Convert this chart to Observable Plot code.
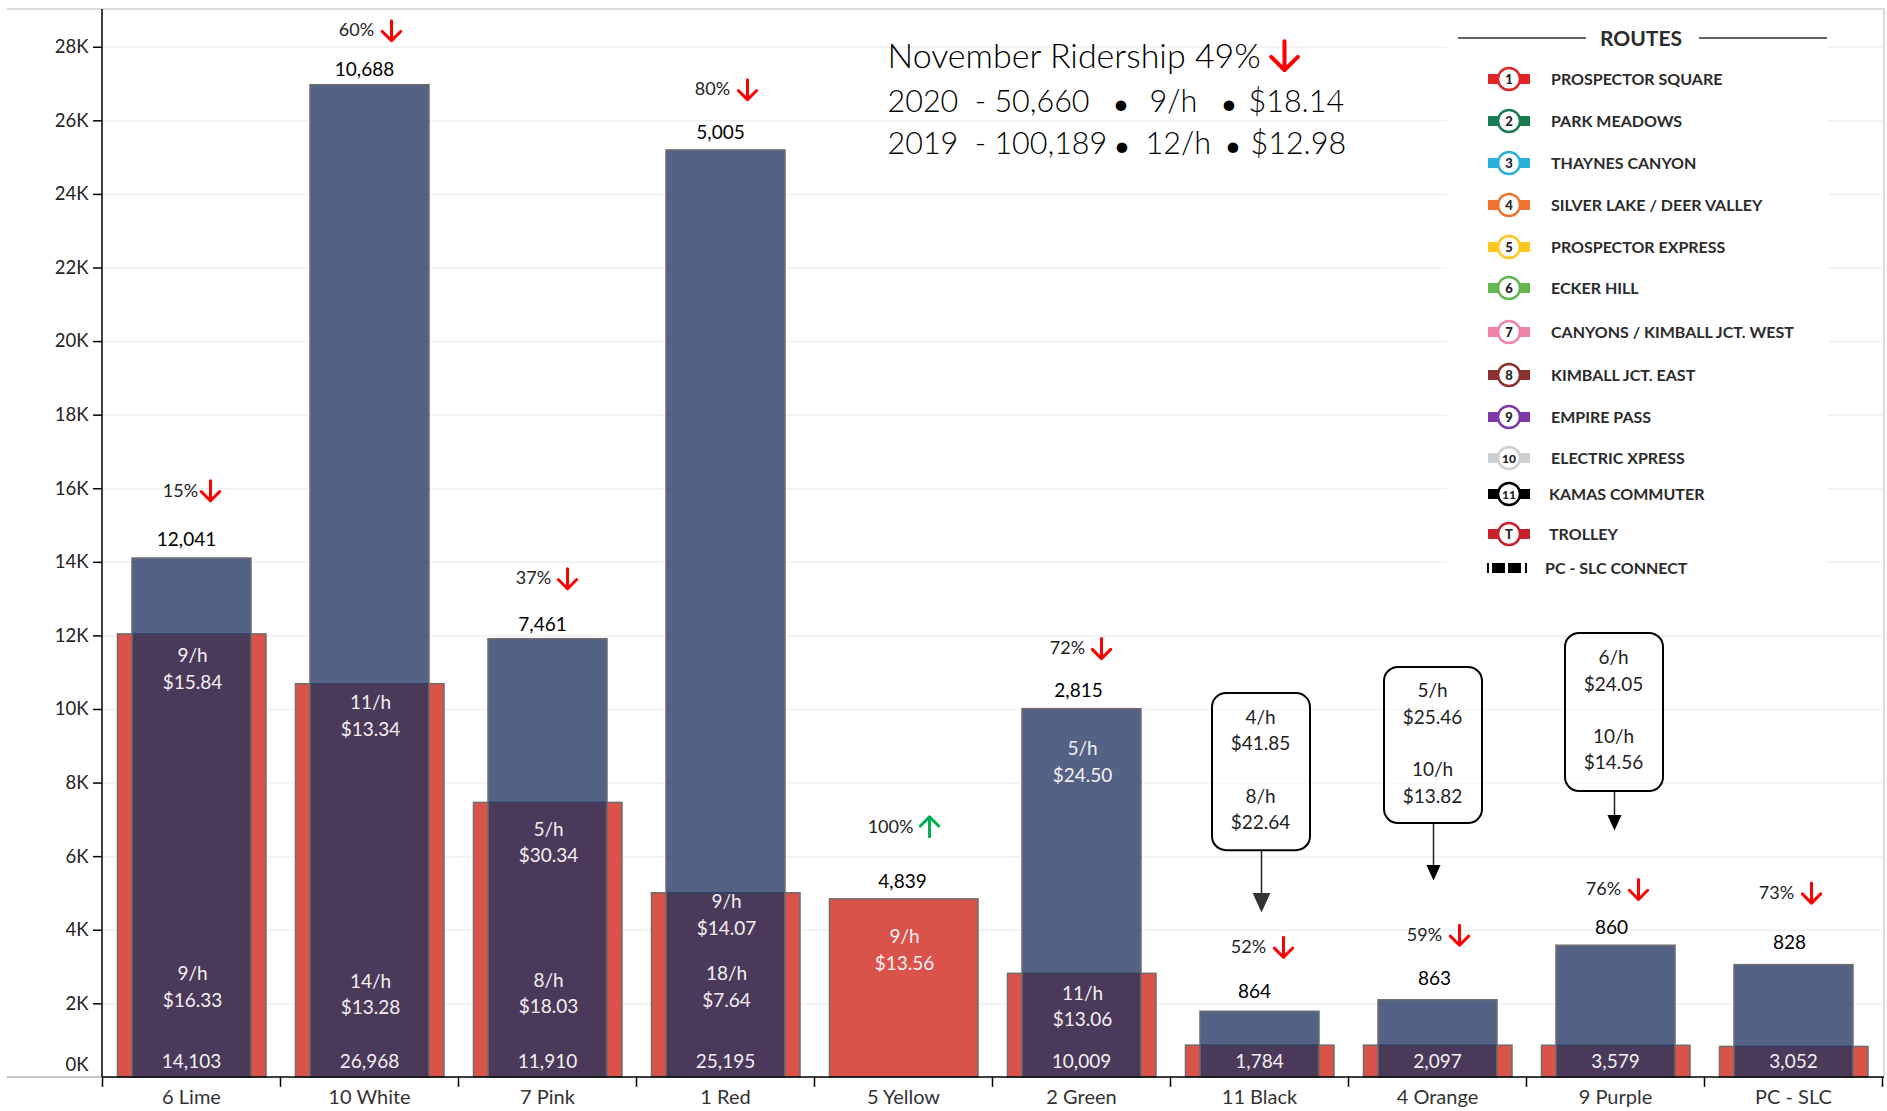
<!DOCTYPE html>
<html><head><meta charset="utf-8">
<script src="https://cdn.jsdelivr.net/npm/d3@7"></script>
<script src="https://cdn.jsdelivr.net/npm/@observablehq/plot@0.6"></script>
<style>
html,body{margin:0;padding:0;background:#fff;overflow:hidden}
#root{position:relative;width:1887px;height:1111px;font-family:Lato,sans-serif}
#legend{position:absolute;left:1447px;top:14px;width:380px;height:576px;background:#fff}
#legend .t{position:absolute;left:0;white-space:nowrap;color:#2b2b2b;font-weight:700;font-size:16px;line-height:20px}
#legend svg{position:absolute;overflow:visible}
</style></head><body><div id="root"></div>
<script>
const categories=["6 Lime","10 White","7 Pink","1 Red","5 Yellow","2 Green","11 Black","4 Orange","9 Purple","PC - SLC"];
const riders2019=[14103,26968,11910,25195,0,10009,1784,2097,3579,3052];
const riders2020=[12041,10688,7461,5005,4839,2815,864,863,860,828];
const pctChange=["15%","60%","37%","80%","100%","72%","52%","59%","76%","73%"];
const pctUp=[false,false,false,false,true,false,false,false,false,false];
const countLabelY=[14602,27371,12310,25668,5304,10510,2325,2685,4060,3667];
const countLabelDx=[-5,-5,-5,-5,-1,-3,-5,-3,-4,-4];
const pctLabelY=[15944,28451,13554,26847,6810,11655,3536,3863,5107,5009];
const pctTextDx=[-11,-13,-14,-13,-13,-14,-11,-13,-12,-17];
const pctArrowDx=[19,22,20,22,26,20,24,22,23,18];
const innerLabels=[
["6 Lime","9/h\n$15.84",11066],["6 Lime","9/h\n$16.33",2423],
["10 White","11/h\n$13.34",9789],["10 White","14/h\n$13.28",2226],
["7 Pink","5/h\n$30.34",6352],["7 Pink","8/h\n$18.03",2259],
["1 Red","9/h\n$14.07",4387],["1 Red","18/h\n$7.64",2423],
["5 Yellow","9/h\n$13.56",3438],
["2 Green","5/h\n$24.50",8545],["2 Green","11/h\n$13.06",1899]];
const callouts=[
{cat:"11 Black",dx:2,top:10435,bottom:6163,tip:4476,r:10,head:"#333",a:"4/h\n$41.85",ay:9401,b:"8/h\n$22.64",by:7252},
{cat:"4 Orange",dx:-4,top:11143,bottom:6898,tip:5347,r:8,head:"#000",a:"5/h\n$25.46",ay:10122,b:"10/h\n$13.82",by:7972},
{cat:"9 Purple",dx:-1,top:12068,bottom:7769,tip:6707,r:8,head:"#000",a:"6/h\n$24.05",ay:11020,b:"10/h\n$14.56",by:8884}];
const headerRows=[
["November Ridership 49%",785,48,34],
["2020  - 50,660",785,93,30.5],["•",1008,95,36],["9/h",1047,93,30.5],["•",1116,95,36],["$18.14",1146,93,30.5],
["2019  - 100,189",785,135,30.5],["•",1009,137,36],["12/h",1043,135,30.5],["•",1120,137,36],["$12.98",1148,135,30.5]];
const routeNames=["PROSPECTOR SQUARE","PARK MEADOWS","THAYNES CANYON","SILVER LAKE / DEER VALLEY","PROSPECTOR EXPRESS","ECKER HILL","CANYONS / KIMBALL JCT. WEST","KIMBALL JCT. EAST","EMPIRE PASS","ELECTRIC XPRESS","KAMAS COMMUTER","TROLLEY","PC - SLC CONNECT"];
const routeBadges=["1","2","3","4","5","6","7","8","9","10","11","T",""];
const routeColors=["#e02428","#1a7a50","#2bb0dc","#ee7330","#fdc820","#62b64c","#f084a8","#8a3030","#8038a8","#cfcfcf","#000000","#c8202c","#000000"];
const routeRowY=[79,121,163,205,247,288,332,375,417,458,494,534,568];

const font="Lato, sans-serif", LF=19;
const rows=categories.map((c,i)=>({c,r19:riders2019[i],r20:riders2020[i],p:pctChange[i],up:pctUp[i],cy:countLabelY[i],cd:countLabelDx[i],py:pctLabelY[i],td:pctTextDx[i],ad:pctArrowDx[i]}));
const BLUE="#1d305f",RED="#d9534a",EDGE="#6e6e6e";
const triangle={draw(ctx,size){const s=Math.sqrt(size);ctx.moveTo(-s*.5,-s*.55);ctx.lineTo(s*.5,-s*.55);ctx.lineTo(0,s*.55);ctx.closePath();}};
const barbed={draw(ctx,l){const w=l*.46;ctx.moveTo(0,0);ctx.lineTo(0,-l);ctx.moveTo(-w,-l+w);ctx.lineTo(0,-l);ctx.lineTo(w,-l+w);}};
const marks=[
 Plot.gridY(d3.range(2000,30000,2000),{stroke:"#f0f0f0",strokeOpacity:1,strokeWidth:1.5}),
 Plot.barY(rows,{x:"c",y:"r20",fill:RED,stroke:EDGE,strokeWidth:1.5,insetLeft:15.5,insetRight:14}),
 Plot.barY(rows.filter(d=>d.r19>0),{x:"c",y:"r19",fill:BLUE,fillOpacity:.76,stroke:EDGE,strokeWidth:1.5,insetLeft:30,insetRight:29}),
 Plot.axisY({ticks:d3.range(2000,30000,2000),tickFormat:d=>d/1000+"K",tickSize:9,tickPadding:5,fontSize:18.5,stroke:"#000",color:"#222",label:null,strokeWidth:1.5}),
 Plot.text(["0K"],{frameAnchor:"bottom-left",dx:-14,dy:-6,lineAnchor:"bottom",textAnchor:"end",fontSize:18.5,fill:"#222"}),
 Plot.ruleX(categories,{x:d=>d,dx:-89,y1:0,y2:-270,stroke:"#000",strokeWidth:1.5}),
 Plot.ruleX(["PC - SLC"],{x:d=>d,dx:89,y1:0,y2:-270,stroke:"#000",strokeWidth:1.5}),
 Plot.axisX({tickSize:0,tickPadding:12,fontSize:20,color:"#333",label:null}),
 ...rows.map(d=>Plot.text([d],{x:"c",y:"cy",text:d=>d.r20.toLocaleString("en-US"),dx:d.cd,fontSize:LF,fill:"#000"})),
 Plot.text(rows,{x:"c",y:()=>426,text:d=>d.r19?d.r19.toLocaleString("en-US"):"",fontSize:LF,fill:"#f3f0f3"}),
 Plot.text(innerLabels,{x:d=>d[0],y:d=>d[2],text:d=>d[1],dx:1,dy:-3,fontSize:LF,lineHeight:1.4,fill:"#f3f0f3"}),
 ...rows.map(d=>Plot.text([d],{x:"c",y:"py",text:"p",dx:d.td,fontSize:18,fill:"#222"})),
 ...rows.map(d=>Plot.vector([d],{x:"c",y:"py",dx:d.ad,length:20,rotate:d.up?0:180,anchor:"middle",shape:barbed,stroke:d.up?"#00b050":"#ff0000",strokeWidth:3})),
 ...callouts.flatMap(k=>[
   Plot.link([k],{x:"cat",y1:"bottom",y2:d=>d.tip+220,dx:k.dx,stroke:"#222",strokeWidth:1.5}),
   Plot.dot([k],{x:"cat",y:d=>d.tip+k.r*27,dx:k.dx,r:k.r,symbol:triangle,fill:k.head,stroke:"none"}),
   Plot.barY([k],{x:"cat",y1:"bottom",y2:"top",dx:k.dx,insetLeft:40,insetRight:40,rx:14,fill:"#fff",fillOpacity:0.55,stroke:"#000",strokeWidth:2}),
   Plot.text([k],{x:"cat",y:"ay",text:"a",dx:k.dx-1,dy:-3,fontSize:LF,lineHeight:1.4,fill:"#222"}),
   Plot.text([k],{x:"cat",y:"by",text:"b",dx:k.dx-1,dy:-3,fontSize:LF,lineHeight:1.4,fill:"#222"})]),
 ...headerRows.map(h=>Plot.text([h],{frameAnchor:"top-left",text:d=>d[0],dx:h[1],dy:h[2],textAnchor:"start",lineAnchor:"middle",fontSize:h[3],fontWeight:300,fill:"#000"})),
 Plot.vector(["5 Yellow"],{x:d=>d,y:()=>27770,dx:381,length:29,rotate:180,anchor:"middle",shape:barbed,stroke:"#ff0000",strokeWidth:4})
];

const chart=Plot.plot({width:1887,height:1111,marginLeft:102,marginRight:5,marginTop:9,marginBottom:34.1,
 style:{fontFamily:font,background:"transparent"},
 x:{domain:categories,padding:0,axis:null},y:{domain:[0,29026],axis:null},marks});
const root=document.getElementById("root");root.appendChild(chart);
chart.style.position="absolute";chart.style.left=0;chart.style.top=0;

const frame=document.createElementNS("http://www.w3.org/2000/svg","svg");
frame.setAttribute("width",1887);frame.setAttribute("height",1111);frame.style.cssText="position:absolute;left:0;top:0;pointer-events:none";
frame.innerHTML='<path d="M7 9H1884V1076" fill="none" stroke="#d0d0d0" stroke-width="1.5"/><path d="M7 1077H102" stroke="#c6c6c6" stroke-width="2"/><path d="M102 1077H1884M102 9V1077" fill="none" stroke="#000" stroke-width="1.5"/>';
root.appendChild(frame);

const lg=document.createElement("div");lg.id="legend";
const ox=1447,oy=14;
let html=`<svg style="left:0;top:0" width="380" height="576">
<path d="M${1458-ox} ${38-oy}H${1586-ox}M${1699-ox} ${38-oy}H${1827-ox}" stroke="#333" stroke-width="1.5"/></svg>
<div class="t" style="left:${1600-ox}px;top:${28-oy}px;font-size:21px;width:82px;text-align:center">ROUTES</div>`;
routeNames.forEach((n,i)=>{
 const y=routeRowY[i]-oy,cx=1509-ox,col=routeColors[i],b=routeBadges[i];
 if(b){html+=`<svg style="left:0;top:0" width="380" height="576"><rect x="${cx-21}" y="${y-5}" width="42" height="10" fill="${col}"/><circle cx="${cx}" cy="${y}" r="11" fill="#fff" stroke="${col}" stroke-width="2.5"/><text x="${cx}" y="${y+4.5}" text-anchor="middle" font-size="${b.length>1?12:13}" font-weight="900" font-family="Lato" fill="#222">${b}</text></svg>`;}
 else{html+=`<svg style="left:0;top:0" width="380" height="576"><path d="M${cx-22} ${y-5}v10h2v-10zM${cx-17} ${y-5}v10h13v-10zM${cx-1} ${y-5}v10h13v-10zM${cx+16} ${y-5}v10h2v-10z" fill="#000"/></svg>`;}
 const tx=(i>=10?1549:1551)-(i==12?4:0)-ox;
 html+=`<div class="t" style="left:${tx}px;top:${y-10}px">${n}</div>`;
});
lg.innerHTML=html;root.appendChild(lg);
</script></body></html>
